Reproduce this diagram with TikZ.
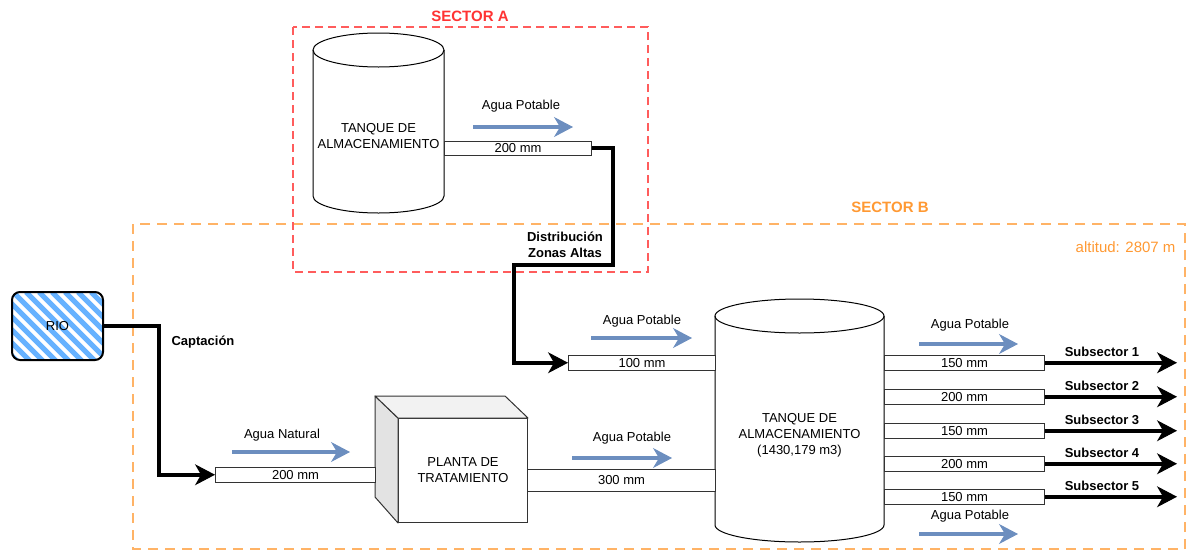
\documentclass[tikz,border=0pt]{standalone}
\usepackage{fontspec}
\setmainfont{Liberation Sans}
\usetikzlibrary{arrows.meta}
\definecolor{pipegray}{HTML}{333333}
\definecolor{flowblue}{HTML}{6C8EBF}
\definecolor{riverblue}{HTML}{66B2FF}
\definecolor{sectorred}{HTML}{FF3333}
\definecolor{sectorredline}{HTML}{FF5C5C}
\definecolor{sectororange}{HTML}{FF9933}
\definecolor{sectororangeline}{HTML}{FFB366}
\definecolor{cubetop}{HTML}{F2F2F2}
\definecolor{cubeside}{HTML}{E3E3E3}

% cylinder outline: left x, top y, width, height (ellipse half-height 17)
\newcommand\tankshape[4]{%
  \pgfmathsetmacro\tkrx{#3/2}%
  \draw[tankline] (#1,#2+17) -- (#1,#2+#4-17)
    arc[start angle=180,end angle=360,x radius=\tkrx pt,y radius=17pt]
    -- (#1+#3,#2+17);
  \draw[tankline] (#1+\tkrx,#2+17) ellipse[x radius=\tkrx pt,y radius=17pt];
}

\begin{document}
\begin{tikzpicture}[x=1pt,y=-1pt,
  every node/.style={font=\fontsize{13}{16}\selectfont},
  tankline/.style={draw=black, line width=1pt},
  pipe/.style={draw=pipegray, fill=white, line width=1pt, inner sep=0pt,
    anchor=north west, minimum height=14.5},
  mainflow/.style={draw=black, line width=4pt, line join=miter,
    -{Stealth[length=20pt,width=21pt,inset=6pt,line width=1pt]}},
  flow/.style={draw=flowblue, line width=4.5pt,
    -{Stealth[length=19pt,width=20pt,inset=6pt,line width=1pt]}},
  boldlabel/.style={font=\fontsize{13}{16}\selectfont\bfseries, align=center},
  sectortitle/.style={font=\fontsize{15}{18}\selectfont\bfseries},
]
\useasboundingbox (0,0) rectangle (1187,552);

% sector frames
\draw[color=sectororangeline, dash pattern=on 10pt off 7pt, line width=2pt]
  (133,224) rectangle (1185,549);
\coordinate (sectorB) at (659,386);
\node[sectortitle, text=sectororange] (sectorBtitle) at (890,207) {SECTOR B};
\node[text=sectororange, font=\fontsize{15}{18}\selectfont, anchor=east]
  (altitude) at (1179,247) {altitud: 2807 m};

\draw[color=sectorredline, dash pattern=on 8pt off 5pt, line width=1.2pt]
  (293,27) rectangle (648,272);
\node[sectortitle, text=sectorred] (sectorAtitle) at (470,16) {SECTOR A};

% storage tanks
\tankshape{313}{33}{131}{180}
\node[align=center] (tankA) at (378.5,136.5) {TANQUE DE\\ALMACENAMIENTO};
\tankshape{715}{299}{169}{243}
\node[align=center] (tankB) at (799.5,435) {TANQUE DE\\ALMACENAMIENTO\\(1430,179 m3)};

% river intake
\node[draw=black, line width=2pt, rounded corners=8pt, minimum width=91,
  minimum height=68, inner sep=0pt,
  path picture={
    \foreach \k in {-90,-77,...,110}
      \draw[riverblue, line width=5pt]
        ([xshift=\k pt]path picture bounding box.north west) -- ++(85,85);
  }] (rio) at (57.5,326) {RIO};

% treatment plant (cube)
\node[draw=pipegray, fill=white, line width=1pt, minimum width=129,
  minimum height=104, anchor=north west, inner sep=0pt, align=center]
  (plant) at (398,418) {PLANTA DE\\TRATAMIENTO};
\draw[draw=pipegray, fill=cubeside, line width=1pt, line join=round]
  (plant.north west) -- ++(-23,-22) -- ++(0,101) -- (plant.south west) -- cycle;
\draw[draw=pipegray, fill=cubetop, line width=1pt, line join=round]
  (plant.north west) -- ++(-23,-22) -- ++(130,0) -- (plant.north east) -- cycle;

% pipes
\node[pipe, minimum width=147] (pA) at (444,140.5) {200 mm};
\node[pipe, minimum width=147] (p100) at (568,355) {100 mm};
\node[pipe, minimum width=160] (p200) at (215,467) {200 mm};
\node[pipe, minimum width=188, minimum height=22] (p300) at (527,469) {300 mm};
\foreach \i/\y/\d in {1/355/150,2/389/200,3/423/150,4/456/200,5/489/150}{
  \node[pipe, minimum width=160] (s\i) at (884,\y) {\d\ mm};
  \node[boldlabel] (sl\i) at (1102,\y-3) {Subsector \i};
}

% main conduits
\coordinate (c1) at (159,326);
\draw[mainflow] (rio.east) -- (c1) |- (p200.west);
\node[boldlabel] (captacion) at (203,342) {Captación};

\coordinate (c2) at (613,265);
\coordinate (c3) at (514,265);
\draw[mainflow] (pA.east) -| (c2) -- (c3) |- (p100.west);
\node[boldlabel] (distrib) at (565,245) {Distribución\\Zonas Altas};

\coordinate (xend) at (1177,0);
\foreach \i in {1,...,5}
  \draw[mainflow] (s\i.east) -- (s\i.east -| xend);

% flow direction arrows
\coordinate (fa1) at (473,127);  \coordinate (fb1) at (573,127);
\coordinate (fa2) at (591,338);  \coordinate (fb2) at (692,338);
\coordinate (fa3) at (232,452);  \coordinate (fb3) at (350,452);
\coordinate (fa4) at (572,458);  \coordinate (fb4) at (672,458);
\coordinate (fa5) at (919,344);  \coordinate (fb5) at (1018,344);
\coordinate (fa6) at (919,534);  \coordinate (fb6) at (1018,534);
\foreach \i in {1,...,6} \draw[flow] (fa\i) -- (fb\i);

\node (w1) at (521,106) {Agua Potable};
\node (w2) at (642,321) {Agua Potable};
\node (w3) at (282,435) {Agua Natural};
\node (w4) at (632,438) {Agua Potable};
\node (w5) at (970,325) {Agua Potable};
\node (w6) at (970,516) {Agua Potable};
\end{tikzpicture}
\end{document}
